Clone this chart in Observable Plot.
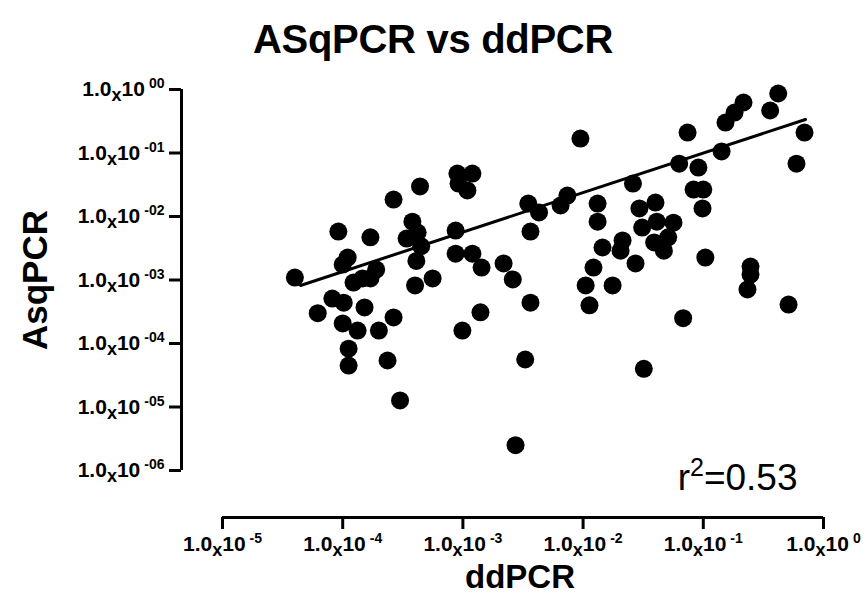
<!DOCTYPE html>
<html>
<head>
<meta charset="utf-8">
<script src="https://cdn.jsdelivr.net/npm/d3@7"></script>
<script src="https://cdn.jsdelivr.net/npm/@observablehq/plot@0.6"></script>
<style>
  html, body { margin: 0; padding: 0; background: #fff; }
  #wrap { position: relative; width: 865px; height: 606px; font-family: "Liberation Sans", Arial, sans-serif; }
  #title { position: absolute; left: 213px; width: 440px; top: 19px; text-align: center;
           font-size: 40px; line-height: 40px; font-weight: bold; color: #000; letter-spacing: -0.3px; }
  #chart { position: absolute; left: 0; top: 0; }
</style>
</head>
<body>
<div id="wrap">
  <div id="chart"></div>
  <div id="title">ASqPCR vs ddPCR</div>
</div>
<script>
// ddPCR (x) values
const ddPCR = [
  4.0e-5, 9.2e-5, 1.7e-4, 2.65e-4, 4.4e-4, 3.8e-4, 3.4e-4, 4.2e-4, 4.5e-4, 4.1e-4,
  1.1e-4, 1.0e-4, 1.9e-4, 1.7e-4, 1.23e-4, 1.46e-4, 4.0e-4, 5.6e-4, 8.2e-5, 1.02e-4,
  1.52e-4, 6.2e-5, 1.0e-4, 1.33e-4, 2.0e-4, 2.65e-4, 1.12e-4, 1.12e-4, 2.36e-4, 3.0e-4,
  9.0e-4, 1.2e-3, 9.2e-4, 1.09e-3, 8.7e-4, 3.5e-3, 4.3e-3, 6.5e-3, 7.4e-3, 3.65e-3,
  8.7e-4, 1.2e-3, 1.43e-3, 2.18e-3, 2.6e-3, 3.65e-3, 1.4e-3, 9.9e-4, 3.3e-3, 2.74e-3,
  9.5e-3, 7.4e-2, 6.3e-2, 2.6e-2, 1.32e-2, 1.32e-2, 2.94e-2, 4.0e-2, 3.1e-2, 4.1e-2,
  5.65e-2, 5.1e-2, 3.9e-2, 4.7e-2, 2.13e-2, 2.05e-2, 1.45e-2, 1.22e-2, 2.73e-2, 1.05e-2,
  1.76e-2, 1.13e-2, 6.8e-2, 3.2e-2, 0.42, 0.36, 0.216, 0.182, 0.153, 0.695,
  0.142, 9.1e-2, 8.3e-2, 0.1, 9.85e-2, 0.596, 0.104, 0.247, 0.247, 0.233, 0.512
];
// AsqPCR (y) values
const AsqPCR = [
  1.09e-3, 5.8e-3, 4.7e-3, 1.85e-2, 2.97e-2, 8.3e-3, 4.5e-3, 5.6e-3, 3.4e-3, 2.0e-3,
  2.26e-3, 1.75e-3, 1.46e-3, 1.06e-3, 9.1e-4, 1.06e-3, 8.2e-4, 1.06e-3, 5.1e-4, 4.4e-4,
  3.7e-4, 3.0e-4, 2.07e-4, 1.6e-4, 1.6e-4, 2.57e-4, 8.3e-5, 4.5e-5, 5.4e-5, 1.27e-5,
  4.75e-2, 4.75e-2, 3.3e-2, 2.57e-2, 6.0e-3, 1.6e-2, 1.16e-2, 1.49e-2, 2.14e-2, 5.8e-3,
  2.6e-3, 2.6e-3, 1.57e-3, 1.82e-3, 1.02e-3, 4.4e-4, 3.1e-4, 1.6e-4, 5.6e-5, 2.5e-6,
  0.169, 0.21, 6.8e-2, 3.3e-2, 1.6e-2, 8.3e-3, 1.34e-2, 1.66e-2, 6.7e-3, 8.3e-3,
  8.0e-3, 4.7e-3, 3.9e-3, 2.9e-3, 4.2e-3, 2.9e-3, 3.25e-3, 1.57e-3, 1.82e-3, 8.2e-4,
  8.2e-4, 4.0e-4, 2.5e-4, 4.0e-5, 0.865, 0.467, 0.624, 0.434, 0.302, 0.21,
  0.106, 5.9e-2, 2.66e-2, 2.66e-2, 1.34e-2, 6.8e-2, 2.26e-3, 1.63e-3, 1.22e-3, 7.1e-4, 4.1e-4
];
// regression line end points (log-log fit)
const fitX = [4.46e-5, 0.708];
const fitY = [8.2e-4, 0.337];
// tick values
const xTicks = [1e-5, 1e-4, 1e-3, 1e-2, 1e-1, 1];
const xTickExp = ["-5", "-4", "-3", "-2", "-1", "0"];
const yTicks = [1, 1e-1, 1e-2, 1e-3, 1e-4, 1e-5, 1e-6];
const yTickExp = ["00", "-01", "-02", "-03", "-04", "-05", "-06"];
const r2Label = "r²=0.53";
const xTitle = "ddPCR";
const yTitle = "AsqPCR";

const points = ddPCR.map((x, i) => ({x, y: AsqPCR[i]}));
const fit = fitX.map((x, i) => ({x, y: fitY[i]}));

const svg = Plot.plot({
  width: 865,
  height: 606,
  marginLeft: 222,
  marginRight: 42,
  marginTop: 89,
  marginBottom: 136,
  style: {fontFamily: "'Liberation Sans', Arial, sans-serif", color: "#000", background: "#fff", overflow: "visible"},
  x: {type: "log", domain: [1e-5, 1]},
  y: {type: "log", domain: [1e-6, 1]},
  marks: [
    // offset axis lines
    Plot.ruleX([xTicks[0]], {y1: yTicks[yTicks.length - 1], y2: yTicks[0], dx: -41, stroke: "#000", strokeWidth: 3}),
    Plot.ruleY([yTicks[yTicks.length - 1]], {x1: xTicks[0], x2: xTicks[xTicks.length - 1], dy: 47, stroke: "#000", strokeWidth: 3}),
    Plot.axisY(yTicks, {
      dx: -41, tickSize: 12, tickPadding: 5, strokeWidth: 3,
      fontSize: 21, fontWeight: "bold", label: null,
      tickFormat: (d) => "1.0x10" + yTickExp[yTicks.indexOf(d)]
    }),
    Plot.axisX(xTicks, {
      dy: 47, tickSize: 12, tickPadding: 7, strokeWidth: 3,
      fontSize: 21, fontWeight: "bold", label: null,
      tickFormat: (d) => "1.0x10" + xTickExp[xTicks.indexOf(d)]
    }),
    Plot.line(fit, {x: "x", y: "y", stroke: "#000", strokeWidth: 3}),
    Plot.dot(points, {x: "x", y: "y", r: 9, fill: "#000", stroke: "none"}),
    Plot.text([yTitle], {frameAnchor: "left", textAnchor: "middle", dx: -187, rotate: -90, fontSize: 35, fontWeight: "bold", fill: "#000"}),
    Plot.text([xTitle], {frameAnchor: "bottom", textAnchor: "middle", dx: -3, dy: 117, fontSize: 33, fontWeight: "bold", fill: "#000"}),
    Plot.text([r2Label], {frameAnchor: "bottom-right", textAnchor: "end", lineAnchor: "bottom", dx: -26, dy: 19, fontSize: 37, fontWeight: "normal", fill: "#000"})
  ]
});

// render tick labels as 1.0 x 10^exp with real tspans
d3.select(svg).selectAll('g[aria-label*="tick label"] text').each(function () {
  const s = this.textContent;
  const m = s.match(/^(1\.0)x10(.*)$/);
  if (!m) return;
  const t = d3.select(this);
  t.text(null);
  t.append("tspan").text(m[1]);
  t.append("tspan").attr("font-size", 18).attr("dy", 5).text("x");
  t.append("tspan").attr("dy", -5).text("10");
  t.append("tspan").attr("font-size", 14).attr("dx", 4).attr("dy", -8).text(m[2]);
});
// r² with a raised 2
d3.select(svg).selectAll("text").each(function () {
  if (this.textContent !== r2Label) return;
  const t = d3.select(this);
  t.text(null);
  t.append("tspan").text("r");
  t.append("tspan").attr("font-size", 25).attr("dy", -14).text("2");
  t.append("tspan").attr("dy", 14).text("=0.53");
});

document.getElementById("chart").appendChild(svg);
</script>
</body>
</html>
